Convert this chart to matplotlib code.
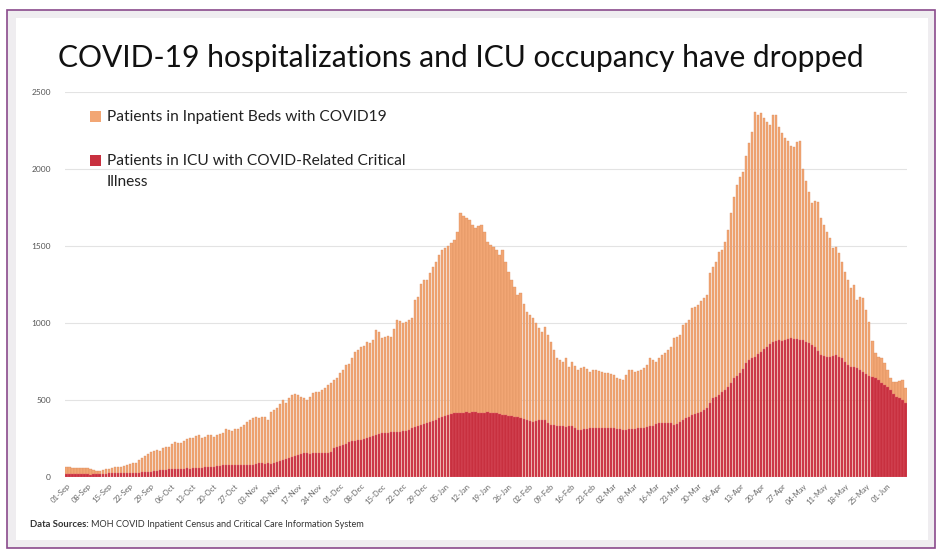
import numpy as np
import matplotlib
matplotlib.use("Agg")
import matplotlib.pyplot as plt
from matplotlib.patches import Rectangle

plt.rcParams["font.family"] = ["Lato", "DejaVu Sans"]

# daily values, 01-Sep-2020 .. 07-Jun-2021 (one row per week)
inpatient = [
    65, 62, 58, 56, 55, 55, 54,
    54, 52, 42, 39, 40, 46, 48,
    49, 58, 62, 66, 64, 70, 78,
    84, 88, 90, 108, 119, 132, 148,
    160, 165, 172, 170, 185, 195, 192,
    210, 227, 222, 217, 232, 244, 249,
    249, 262, 271, 249, 258, 271, 268,
    260, 270, 276, 282, 310, 306, 300,
    308, 312, 322, 335, 357, 365, 378,
    386, 380, 390, 385, 368, 422, 430,
    444, 470, 498, 477, 512, 530, 535,
    530, 520, 511, 498, 520, 541, 548,
    552, 560, 575, 595, 610, 628, 640,
    671, 690, 725, 735, 770, 812, 820,
    840, 850, 877, 870, 887, 952, 940,
    898, 905, 912, 909, 960, 1018, 1010,
    996, 1006, 1015, 1028, 1147, 1169, 1250,
    1277, 1280, 1321, 1360, 1396, 1440, 1472,
    1483, 1500, 1515, 1537, 1591, 1710, 1690,
    1678, 1667, 1634, 1613, 1625, 1634, 1591,
    1526, 1505, 1490, 1472, 1440, 1472, 1396,
    1331, 1277, 1230, 1180, 1191, 1120, 1071,
    1050, 1028, 995, 964, 942, 974, 920,
    877, 823, 769, 755, 747, 769, 714,
    747, 720, 693, 704, 714, 698, 682,
    690, 693, 688, 682, 675, 671, 665,
    660, 639, 632, 628, 660, 693, 690,
    682, 688, 693, 705, 725, 769, 755,
    747, 769, 790, 801, 820, 844, 898,
    905, 920, 985, 1000, 1018, 1093, 1105,
    1115, 1140, 1158, 1180, 1321, 1360, 1396,
    1461, 1472, 1526, 1602, 1710, 1818, 1894,
    1948, 1981, 2080, 2165, 2240, 2370, 2349,
    2360, 2327, 2305, 2284, 2349, 2349, 2273,
    2230, 2200, 2180, 2150, 2140, 2175, 2180,
    2000, 1920, 1850, 1780, 1790, 1786, 1680,
    1634, 1590, 1550, 1483, 1494, 1450, 1396,
    1331, 1277, 1223, 1245, 1147, 1169, 1158,
    1082, 1006, 880, 801, 780, 769, 736,
    693, 640, 617, 617, 620, 628, 574,
]

icu = [
    17, 16, 16, 15, 15, 16, 15,
    15, 14, 15, 16, 17, 18, 20,
    21, 22, 22, 23, 22, 23, 24,
    24, 25, 24, 27, 29, 30, 31,
    33, 35, 38, 42, 44, 46, 47,
    48, 47, 49, 50, 52, 54, 53,
    55, 54, 56, 58, 60, 62, 63,
    66, 70, 72, 75, 76, 74, 75,
    76, 77, 75, 76, 78, 77, 78,
    80, 91, 88, 85, 86, 84, 88,
    95, 104, 108, 112, 120, 130, 135,
    142, 150, 152, 152, 150, 151, 152,
    153, 152, 151, 152, 162, 184, 192,
    200, 208, 215, 227, 230, 232, 238,
    240, 245, 249, 255, 262, 268, 275,
    282, 284, 286, 288, 290, 292, 292,
    295, 300, 306, 314, 320, 330, 336,
    340, 350, 357, 362, 370, 379, 385,
    392, 398, 404, 411, 414, 416, 416,
    417, 416, 418, 417, 416, 415, 416,
    417, 416, 414, 416, 408, 400, 398,
    395, 392, 390, 385, 380, 374, 368,
    362, 357, 360, 368, 368, 368, 350,
    336, 333, 330, 328, 326, 325, 326,
    326, 318, 303, 306, 310, 312, 314,
    314, 315, 313, 314, 316, 314, 313,
    314, 312, 308, 303, 306, 308, 310,
    312, 314, 316, 318, 322, 326, 332,
    340, 347, 346, 347, 348, 347, 336,
    345, 357, 368, 379, 388, 398, 405,
    415, 422, 432, 444, 476, 509, 520,
    530, 548, 566, 584, 610, 639, 655,
    671, 700, 736, 755, 770, 779, 800,
    812, 828, 844, 860, 877, 880, 887,
    880, 885, 892, 899, 896, 893, 890,
    887, 876, 866, 855, 844, 815, 790,
    785, 779, 779, 785, 790, 780, 769,
    745, 725, 715, 710, 704, 692, 682,
    665, 655, 649, 638, 628, 610, 595,
    580, 563, 540, 519, 508, 498, 477,
]

week_labels = [
    "01-Sep", "08-Sep", "15-Sep", "22-Sep", "29-Sep", "06-Oct", "13-Oct",
    "20-Oct", "27-Oct", "03-Nov", "10-Nov", "17-Nov", "24-Nov", "01-Dec",
    "08-Dec", "15-Dec", "22-Dec", "29-Dec", "05-Jan", "12-Jan", "19-Jan",
    "26-Jan", "02-Feb", "09-Feb", "16-Feb", "23-Feb", "02-Mar", "09-Mar",
    "16-Mar", "23-Mar", "30-Mar", "06-Apr", "13-Apr", "20-Apr", "27-Apr",
    "04-May", "11-May", "18-May", "25-May", "01-Jun",
]

orange = "#f2a674"
red = "#c8303f"

fig = plt.figure(figsize=(9.44, 5.56), dpi=100)

# frame around the slide
fig.patches.append(Rectangle((7 / 944, 1 - 548 / 556), 928 / 944, 538 / 556,
                             transform=fig.transFigure, facecolor="#efedf0",
                             edgecolor="#8a4a8c", linewidth=1.2, zorder=-3))
fig.patches.append(Rectangle((16 / 944, 1 - 540 / 556), 912 / 944, 522 / 556,
                             transform=fig.transFigure, facecolor="white",
                             edgecolor="none", zorder=-2))

ax = fig.add_axes([65 / 944, 1 - 476.7 / 556, 842 / 944, 385 / 556])
ax.set_facecolor("none")
x = np.arange(len(inpatient))
ax.bar(x, inpatient, width=0.72, color=orange, edgecolor="#d98a5c",
       linewidth=0.25, zorder=2)
ax.bar(x, icu, width=0.72, color=red, edgecolor="#e0606f",
       linewidth=0.25, zorder=3)

ax.set_xlim(-0.5, len(inpatient) - 0.5)
ax.set_ylim(0, 2500)
ax.set_yticks([0, 500, 1000, 1500, 2000, 2500])
ax.yaxis.grid(True, color="#e3e3e3", linewidth=0.8, zorder=0)
ax.set_axisbelow(True)
ax.set_xticks(np.arange(0, len(inpatient), 7))
ax.set_xticklabels(week_labels, rotation=45, ha="right",
                   rotation_mode="anchor", fontsize=5.5, color="#666666")
ax.tick_params(axis="both", length=0, pad=4)
ax.tick_params(axis="y", labelsize=6, labelcolor="#555555", pad=10)
for s in ax.spines.values():
    s.set_visible(False)

# title
fig.text(461 / 944, 1 - 58 / 556,
         "COVID-19 hospitalizations and ICU occupancy have dropped",
         ha="center", va="center", fontsize=21.6, color="#111111")

# legend
leg_items = [
    (orange, 116, "Patients in Inpatient Beds with COVID19"),
    (red, 160, "Patients in ICU with COVID-Related Critical\nIllness"),
]
for col, yc, label in leg_items:
    fig.patches.append(Rectangle((90 / 944, 1 - (yc + 6) / 556), 11 / 944,
                                 11 / 556, transform=fig.transFigure,
                                 facecolor=col, edgecolor="none"))
    fig.text(107 / 944, 1 - (yc - 6) / 556, label, ha="left", va="top",
             fontsize=11.2, color="#222222", linespacing=1.65)

fig.text(30 / 944, 1 - 527 / 556, "Data Sources:", fontsize=6.8,
         fontweight="bold", color="#333333")
fig.text(91 / 944, 1 - 527 / 556,
         "MOH COVID Inpatient Census and Critical Care Information System",
         fontsize=6.6, color="#333333")

fig.savefig("out.png", dpi=100)
